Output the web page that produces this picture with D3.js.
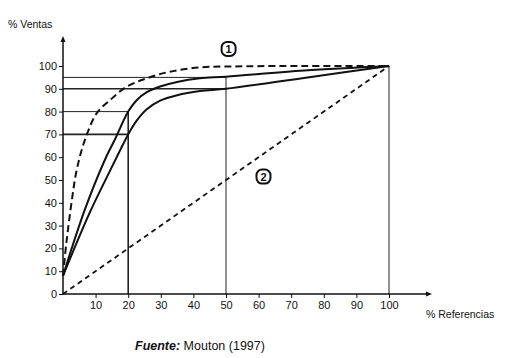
<!DOCTYPE html>
<html><head><meta charset="utf-8">
<script src="https://cdn.jsdelivr.net/npm/d3@7"></script>
<style>body{margin:0;background:#fff}svg{display:block}text{font-family:"Liberation Sans",Arial,sans-serif;fill:#111}</style>
</head><body><svg id="c" width="518" height="358"></svg>
<script>
const xTicks = [10,20,30,40,50,60,70,80,90,100];
const yTicks = [0,10,20,30,40,50,60,70,80,90,100];
const curve1X = [0,1,2.7,4.2,6.7,10.3,14.4,19.5,25.7,32.8,42,52,70,100];
const curve1Y = [8,22,41,54.4,67.5,79.2,85,90.9,94.6,97.5,99.4,99.8,100,100];
const curveAX = [0,6.7,12.9,16,20,22.6,25.7,29.8,35,42,50,74,100];
const curveAY = [8,37,59,68,80,85,88.5,91,93,94.6,95.3,98,100];
const curveBX = [0,8.3,14.4,17.5,20,22.6,25.7,29.8,35,42,50,75,100];
const curveBY = [8,36,54,63,70,76,81,84.8,87.2,89,90,95,100];
const diagX = [0,100];
const diagY = [0,100];
// reference lines: [x1,y1,x2,y2] in data units
const refLines = [[0,95,50,95],[0,90,50,90],[0,80,20,80],[0,70,20,70],[20,0,20,80],[50,0,50,95],[100,0,100,100]];
const labels = ["1","2"];
const labelPos = [[50.8,107.5],[61.5,51.5]];

const svg = d3.select("#c");
const x = d3.scaleLinear().domain([0,100]).range([63,389]);
const y = d3.scaleLinear().domain([0,100]).range([294,66]);

// reference lines
svg.append("g").selectAll("line").data(refLines).join("line")
  .attr("x1",d=>x(d[0])).attr("y1",d=>y(d[1])).attr("x2",d=>x(d[2])).attr("y2",d=>y(d[3]))
  .attr("stroke","#222").attr("stroke-width",(d,i)=> (i===1||i===3||i===4)?1.6:1);

// axes
const ax = svg.append("g").attr("transform","translate(0,294)")
  .call(d3.axisBottom(x).tickValues(xTicks).tickSize(4).tickPadding(3));
ax.select(".domain").remove();
ax.selectAll("text").style("font-size","11px").attr("fill","#111");
ax.selectAll("line").attr("stroke","#111");
const ay = svg.append("g").attr("transform","translate(63,0)")
  .call(d3.axisLeft(y).tickValues(yTicks).tickSize(4).tickPadding(2));
ay.select(".domain").remove();
ay.selectAll("text").style("font-size","11px").attr("fill","#111");
ay.selectAll("line").attr("stroke","#111");

// axis lines with arrows
svg.append("line").attr("x1",63).attr("y1",294).attr("x2",63).attr("y2",40).attr("stroke","#111").attr("stroke-width",1.5);
svg.append("path").attr("d","M63,36 L60.5,42 L65.5,42 Z").attr("fill","#111");
svg.append("line").attr("x1",63).attr("y1",294).attr("x2",428).attr("y2",294).attr("stroke","#111").attr("stroke-width",1.5);
svg.append("path").attr("d","M432,294 L426,291.5 L426,296.5 Z").attr("fill","#111");

const line = d3.line().x(d=>x(d[0])).y(d=>y(d[1])).curve(d3.curveCatmullRom.alpha(0.5));
const zip = (a,b)=>a.map((v,i)=>[v,b[i]]);

svg.append("path").datum(zip(diagX,diagY)).attr("d",line).attr("fill","none")
  .attr("stroke","#111").attr("stroke-width",1.8).attr("stroke-dasharray","5,4");
svg.append("path").datum(zip(curveBX,curveBY)).attr("d",line).attr("fill","none")
  .attr("stroke","#111").attr("stroke-width",2);
svg.append("path").datum(zip(curveAX,curveAY)).attr("d",line).attr("fill","none")
  .attr("stroke","#111").attr("stroke-width",2);
svg.append("path").datum(zip(curve1X,curve1Y)).attr("d",line).attr("fill","none")
  .attr("stroke","#111").attr("stroke-width",2).attr("stroke-dasharray","7,4");

// circled labels
const lg = svg.append("g").selectAll("g").data(labels).join("g")
  .attr("transform",(d,i)=>`translate(${x(labelPos[i][0])},${y(labelPos[i][1])})`);
lg.append("rect").attr("x",-7).attr("y",-7).attr("width",14).attr("height",14).attr("rx",5.5)
  .attr("fill","#fff").attr("stroke","#111").attr("stroke-width",2);
lg.append("text").text(d=>d).attr("text-anchor","middle").attr("dy","0.36em")
  .style("font-size","11px").style("font-weight","bold");

// titles
svg.append("text").attr("x",8).attr("y",28).text("% Ventas").style("font-size","10.5px");
svg.append("text").attr("x",426).attr("y",318).text("% Referencias").style("font-size","10.5px");
const f = svg.append("text").attr("x",135).attr("y",350).style("font-size","12.5px");
f.append("tspan").text("Fuente:").style("font-weight","bold").style("font-style","italic");
f.append("tspan").text(" Mouton (1997)");
</script></body></html>
